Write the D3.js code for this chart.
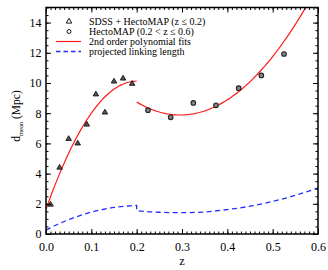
<!DOCTYPE html>
<html>
<head>
<meta charset="utf-8">
<script src="https://cdn.jsdelivr.net/npm/d3@7"></script>
<style>
  body { margin: 0; background: #fff; }
</style>
</head>
<body>
<svg width="328" height="270"></svg>
<script>
// SDSS + HectoMAP (z <= 0.2)
const sdssZ = [0.01, 0.03, 0.05, 0.07, 0.09, 0.11, 0.13, 0.15, 0.17, 0.19]
const sdssD = [1.95, 4.4, 6.3, 6.0, 7.25, 9.25, 8.05, 10.1, 10.3, 9.95]
// HectoMAP (0.2 < z <= 0.6)
const hectoZ = [0.225, 0.275, 0.325, 0.375, 0.425, 0.475, 0.525]
const hectoD = [8.2, 7.73, 8.68, 8.52, 9.66, 10.5, 11.92]
// 2nd order fits, coefficients c0 + c1 z + c2 z^2, with z range
const fitLow = {range: [0, 0.2], coef: [1.64, 84.8, -212]}
const fitHigh = {range: [0.2, 0.6], coef: [16.03, -55.06, 93]}
// projected linking length
const linkZ = [0, 0.025, 0.05, 0.075, 0.1, 0.125, 0.15, 0.175, 0.2, 0.2, 0.25, 0.3, 0.35, 0.4, 0.45, 0.5, 0.55, 0.6]
const linkD = [0.26, 0.63, 0.95, 1.22, 1.45, 1.62, 1.76, 1.84, 1.89, 1.55, 1.44, 1.41, 1.46, 1.62, 1.84, 2.16, 2.56, 3.05]

const xTicks = [0, 0.1, 0.2, 0.3, 0.4, 0.5, 0.6]
const yTicks = [0, 2, 4, 6, 8, 10, 12, 14]

const legendLabels = ["SDSS + HectoMAP (z \u2264 0.2)", "HectoMAP (0.2 < z \u2264 0.6)",
                      "2nd order polynomial fits", "projected linking length"]

const serif = "Liberation Serif"
const svg = d3.select("svg")
const L = 46, R = 318, T = 7.5, B = 234

const x = d3.scaleLinear().domain([0, 0.6]).range([L, R])
const y = d3.scaleLinear().domain([0, 15]).range([B, T])

svg.append("clipPath").attr("id", "clip")
    .append("rect").attr("x", L).attr("y", T).attr("width", R - L).attr("height", B - T)

const plot = svg.append("g").attr("clip-path", "url(#clip)")

// axes, ticks pointing inwards on all four sides
const minorX = d3.range(0, 61).map(i => i / 100)
const minorY = d3.range(0, 31).map(i => i / 2)

function addAxis(axisFn, scale, pos, major, minor, fmt, pad) {
    const g1 = svg.append("g").attr("transform", pos)
        .call(axisFn(scale).tickValues(minor).tickSize(-2.5).tickFormat(""))
    const g2 = svg.append("g").attr("transform", pos)
        .call(axisFn(scale).tickValues(major).tickSize(-5).tickPadding(pad)
            .tickFormat(fmt || ""))
    for (const g of [g1, g2]) {
        g.select(".domain").remove()
        g.selectAll("line").attr("stroke", "#000").attr("stroke-width", 1)
        g.selectAll("text").attr("font-family", serif).attr("font-size", 12).attr("fill", "#000")
    }
}
addAxis(d3.axisBottom, x, `translate(0,${B})`, xTicks, minorX, d3.format(".1f"), 8.5)
addAxis(d3.axisTop, x, `translate(0,${T})`, xTicks, minorX, null, 0)
addAxis(d3.axisLeft, y, `translate(${L},0)`, yTicks, minorY, d3.format("d"), 4.5)
addAxis(d3.axisRight, y, `translate(${R},0)`, yTicks, minorY, null, 0)

svg.append("rect")
    .attr("x", L).attr("y", T).attr("width", R - L).attr("height", B - T)
    .attr("fill", "none").attr("stroke", "#000").attr("stroke-width", 1.5)

// fit curves
const poly = (c, z) => c[0] + c[1] * z + c[2] * z * z
const line = d3.line().x(d => x(d[0])).y(d => y(d[1]))
for (const f of [fitLow, fitHigh]) {
    const zs = d3.range(f.range[0], f.range[1] + 1e-9, 0.004)
    plot.append("path")
        .attr("d", line(zs.map(z => [z, poly(f.coef, z)])))
        .attr("fill", "none").attr("stroke", "#ff1a1a").attr("stroke-width", 1.2)
}

// linking length
plot.append("path")
    .attr("d", d3.line().x((d, i) => x(linkZ[i])).y(d => y(d)).curve(d3.curveMonotoneX)(linkD))
    .attr("fill", "none").attr("stroke", "#1f2dff").attr("stroke-width", 1.3)
    .attr("stroke-dasharray", "5,3.5")

// markers
const tri = d3.symbol().type(d3.symbolTriangle).size(13)
plot.append("g").selectAll("path")
    .data(sdssZ)
    .join("path")
    .attr("transform", (d, i) => `translate(${x(d)},${y(sdssD[i])})`)
    .attr("d", tri)
    .attr("fill", "#555").attr("stroke", "#111").attr("stroke-width", 0.9)

plot.append("g").selectAll("circle")
    .data(hectoZ)
    .join("circle")
    .attr("cx", d => x(d))
    .attr("cy", (d, i) => y(hectoD[i]))
    .attr("r", 2.3)
    .attr("fill", "#888").attr("stroke", "#222").attr("stroke-width", 1.1)

// legend
const leg = svg.append("g")
const rowY = [21.5, 31.5, 41.5, 51.5]
leg.append("path").attr("transform", `translate(69,${rowY[0]})`)
    .attr("d", d3.symbol().type(d3.symbolTriangle).size(13))
    .attr("fill", "none").attr("stroke", "#000").attr("stroke-width", 0.9)
leg.append("circle").attr("cx", 69).attr("cy", rowY[1]).attr("r", 2)
    .attr("fill", "none").attr("stroke", "#000").attr("stroke-width", 0.9)
leg.append("line").attr("x1", 56).attr("x2", 81).attr("y1", rowY[2]).attr("y2", rowY[2])
    .attr("stroke", "#ff1a1a").attr("stroke-width", 1.2)
leg.append("line").attr("x1", 56).attr("x2", 81).attr("y1", rowY[3]).attr("y2", rowY[3])
    .attr("stroke", "#1f2dff").attr("stroke-width", 1.3).attr("stroke-dasharray", "4.5,3")
leg.selectAll("text")
    .data(legendLabels)
    .join("text")
    .attr("font-family", serif)
    .attr("x", 89)
    .attr("y", (d, i) => rowY[i] + 3.2)
    .attr("font-size", 10)
    .attr("fill", "#000")
    .text(d => d)

// axis titles
svg.append("text")
    .attr("font-family", serif)
    .attr("x", (L + R) / 2).attr("y", 265)
    .attr("text-anchor", "middle").attr("font-size", 12.5)
    .text("z")

const yl = svg.append("text")
    .attr("font-family", serif)
    .attr("transform", `translate(20,116) rotate(-90)`)
    .attr("text-anchor", "middle").attr("font-size", 11.5)
yl.append("tspan").text("d")
yl.append("tspan").attr("font-size", 6.5).attr("dy", 3).text("mean")
yl.append("tspan").attr("dy", -3).text(" (Mpc)")
</script>
</body>
</html>
